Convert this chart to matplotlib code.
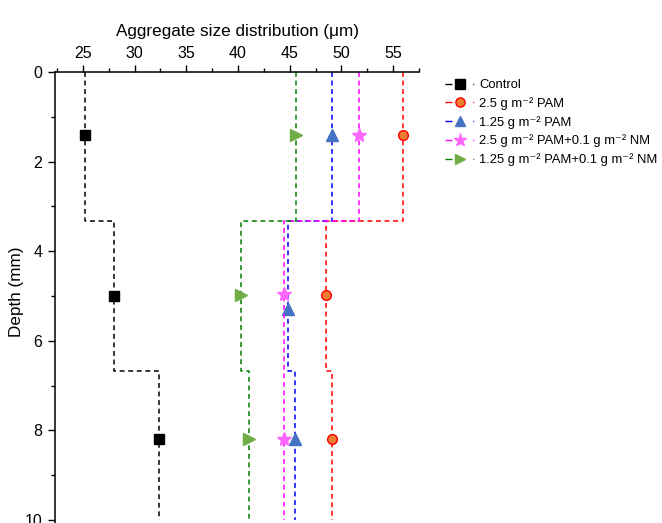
import matplotlib
matplotlib.use("Agg")
import matplotlib.pyplot as plt
from matplotlib.lines import Line2D
from matplotlib.ticker import MultipleLocator

plt.rcParams['font.family'] = ['Liberation Sans', 'DejaVu Sans']

# ---- data ----
layer_edges = [0, 3.33, 6.67, 10]          # depth boundaries (mm)
marker_depth = [1.4, 5.0, 8.2]             # depth of sample points (mm)

labels = ["Control",
          "2.5 g m\u207b\u00b2 PAM",
          "1.25 g m\u207b\u00b2 PAM",
          "2.5 g m\u207b\u00b2 PAM+0.1 g m\u207b\u00b2 NM",
          "1.25 g m\u207b\u00b2 PAM+0.1 g m\u207b\u00b2 NM"]

control = [25.2, 28.0, 32.4]
pam25 = [56.0, 48.5, 49.1]
pam125 = [49.1, 44.8, 45.5]
pam25_nm = [51.7, 44.45, 44.4]
pam125_nm = [45.6, 40.3, 41.1]
series = [control, pam25, pam125, pam25_nm, pam125_nm]

depth_per_series = [marker_depth,
                    [1.4, 4.97, 8.2],
                    [1.4, 5.3, 8.2],
                    [1.4, 4.95, 8.2],
                    [1.4, 4.97, 8.2]]

line_colors = ['black', '#FF0000', '#0000FF', '#FF00FF', '#008000']
markers = ['s', 'o', '^', '*', '>']
face_colors = ['black', '#ED7D31', '#4472C4', '#FF66FF', '#70AD47']
edge_colors = ['black', '#FF0000', '#4472C4', '#FF66FF', '#70AD47']
msizes = [7, 7, 8, 10, 8]

fig = plt.figure(figsize=(6.62, 5.23), dpi=100)
ax = fig.add_axes([55/662, 0, (419-55)/662, 1-72/523])

for vals, dps, lc, mk, fc, ec, ms, lab in zip(series, depth_per_series, line_colors,
                                            markers, face_colors, edge_colors, msizes, labels):
    xs, ys = [], []
    for i, v in enumerate(vals):
        xs += [v, v]
        ys += [layer_edges[i], layer_edges[i+1]]
    ax.plot(xs, ys, color=lc, lw=1.1, linestyle=(0, (3.2, 2.4)))
    ax.plot(vals, dps, linestyle='none', marker=mk, ms=ms, mfc=fc, mec=ec, mew=1.0)

ax.set_xlim(22.3, 57.5)
ax.set_ylim(10.07, 0)
ax.xaxis.set_major_locator(MultipleLocator(5))
ax.xaxis.set_minor_locator(MultipleLocator(2.5))
ax.yaxis.set_major_locator(MultipleLocator(2))
ax.yaxis.set_minor_locator(MultipleLocator(1))
ax.xaxis.tick_top()
ax.xaxis.set_label_position('top')
ax.tick_params(axis='both', which='major', direction='out', length=5, width=1, labelsize=11.5)
ax.tick_params(axis='both', which='minor', direction='out', length=3, width=1)
ax.tick_params(axis='x', which='both', top=True, bottom=False, pad=3)
ax.tick_params(axis='y', which='major', pad=4)
ax.spines['right'].set_visible(False)
ax.spines['bottom'].set_visible(False)
ax.spines['top'].set_linewidth(1.1)
ax.spines['left'].set_linewidth(1.1)
ax.set_xlabel("Aggregate size distribution (μm)", fontsize=12.3, labelpad=7)
ax.set_ylabel("Depth (mm)", fontsize=12.3)
ax.yaxis.set_label_coords((24-55)/364, 1 - (292-72)/451)

handles = []
for lc, mk, fc, ec, ms in zip(line_colors, markers, face_colors, edge_colors, msizes):
    handles.append(Line2D([], [], color=lc, lw=1.0, linestyle=(0, (5, 15.0, 0.7, 5)),
                          marker=mk, ms=ms * 0.95, mfc=fc, mec=ec, mew=1.0))
leg = fig.legend(handles, labels, loc='upper left', bbox_to_anchor=(440/662, 1-74/523),
                 frameon=False, fontsize=9.4, handlelength=2.2, handletextpad=0.4,
                 labelspacing=0.45, borderaxespad=0)

fig.savefig("out.png", dpi=100)
